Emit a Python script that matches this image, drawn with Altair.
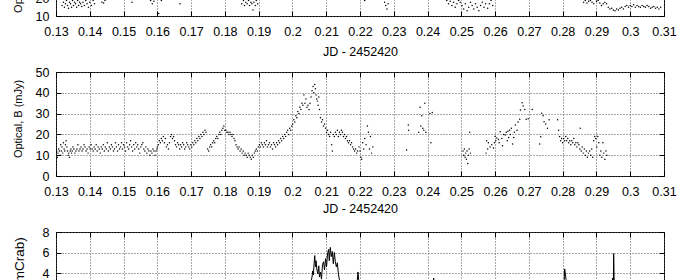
import altair as alt
import pandas as pd

# ---------------- data (JD - 2452420, flux) ----------------
x_ticks = [0.13, 0.14, 0.15, 0.16, 0.17, 0.18, 0.19, 0.2, 0.21, 0.22,
           0.23, 0.24, 0.25, 0.26, 0.27, 0.28, 0.29, 0.3, 0.31]

# top panel (only its lower strip is visible)
top_t = [0.1318, 0.1322, 0.1325, 0.1328, 0.1331, 0.1334, 0.1337, 0.1340, 0.1343, 0.1346,
         0.1349, 0.1352, 0.1355, 0.1358, 0.1361, 0.1364, 0.1367, 0.1370, 0.1373, 0.1376,
         0.1380, 0.1384, 0.1388, 0.1392, 0.1396, 0.1400, 0.1405, 0.1410, 0.1414,
         0.1436, 0.1441, 0.1445, 0.1525, 0.1580, 0.1585, 0.1590, 0.1604, 0.1612, 0.1667,
         0.1850, 0.1855, 0.1858, 0.1862, 0.1866, 0.1870, 0.1873, 0.1877, 0.1880, 0.1883,
         0.1886, 0.1890, 0.1893, 0.1897, 0.2214, 0.2273, 0.2276, 0.2280, 0.2283,
         0.2457, 0.2462, 0.2467, 0.2472, 0.2477, 0.2482, 0.2487, 0.2492,
         0.2497, 0.2502, 0.2507, 0.2512, 0.2517, 0.2522, 0.2527, 0.2532, 0.2537, 0.2542,
         0.2547, 0.2552, 0.2557, 0.2562, 0.2567, 0.2572, 0.2578, 0.2583, 0.2588, 0.2593,
         0.2862, 0.2867, 0.2872, 0.2877, 0.2882, 0.2887, 0.2892,
         0.2900, 0.2905, 0.2910, 0.2915, 0.2920, 0.2925, 0.2930, 0.2935, 0.2940, 0.2945,
         0.2950, 0.2955, 0.2960, 0.2965, 0.2970, 0.2975, 0.2980, 0.2985, 0.2990, 0.2995,
         0.3000, 0.3005, 0.3010, 0.3015, 0.3020, 0.3025, 0.3030, 0.3035, 0.3040, 0.3045,
         0.3050, 0.3055, 0.3060, 0.3065, 0.3070, 0.3075, 0.3080, 0.3085, 0.3090]
top_v = [16, 18, 15, 17, 19, 16, 14.5, 18, 17, 15,
         19, 16, 18, 17, 15, 19, 16, 18, 17, 15.5,
         18, 16, 19, 17, 15, 18, 16, 19, 17,
         18, 17.5, 19, 18, 19, 17, 18.5, 11.5, 19, 17,
         17, 19, 16, 18, 17, 19, 16, 18, 17, 13.5,
         18, 16, 19, 17, 19, 18, 16, 14, 17,
         19, 17, 18.5, 16, 18, 15, 17, 19,
         18, 16, 14, 17, 13, 15, 18, 16, 14, 17,
         15, 13, 16, 18, 15, 17, 14.5, 17, 19, 16,
         18, 19, 17.5, 18.5, 19, 18, 17,
         18.5, 19, 17.5, 16, 17, 18, 17, 15, 14, 14.5,
         13.5, 13, 14, 13.5, 14.5, 15, 14, 15.5, 16, 15,
         16, 15.5, 16.5, 15, 16, 15.5, 15, 16, 15.5, 15,
         16, 15.5, 14.5, 15, 15.5, 14.5, 15, 14, 15]

# middle panel: Optical B (mJy)
mid_t = [0.1302, 0.1304, 0.1306, 0.1308, 0.1310, 0.1312, 0.1314, 0.1316, 0.1318, 0.1320,
         0.1322, 0.1324, 0.1326, 0.1328, 0.1330, 0.1332, 0.1334, 0.1336, 0.1338, 0.1340,
         0.1342, 0.1344, 0.1346, 0.1348, 0.1350, 0.1353, 0.1356, 0.1359, 0.1362, 0.1365,
         0.1368, 0.1371, 0.1374, 0.1377, 0.1380, 0.1383, 0.1386, 0.1389, 0.1392, 0.1395,
         0.1398, 0.1401, 0.1404, 0.1407, 0.1410, 0.1413, 0.1416, 0.1419, 0.1422, 0.1425,
         0.1428, 0.1431, 0.1434, 0.1437, 0.1440, 0.1443, 0.1446, 0.1449, 0.1452, 0.1455,
         0.1458, 0.1461, 0.1464, 0.1467, 0.1470, 0.1473, 0.1476, 0.1479, 0.1482, 0.1485,
         0.1488, 0.1491, 0.1494, 0.1497,
         0.1500, 0.1503, 0.1506, 0.1509, 0.1512, 0.1515, 0.1518, 0.1521, 0.1524, 0.1527,
         0.1530, 0.1533, 0.1536, 0.1539, 0.1542, 0.1545, 0.1548, 0.1551, 0.1554, 0.1557,
         0.1560, 0.1563, 0.1566, 0.1569, 0.1572, 0.1575, 0.1578, 0.1581, 0.1584, 0.1587,
         0.1590, 0.1593, 0.1596, 0.1599,
         0.1600, 0.1603, 0.1606, 0.1609, 0.1612, 0.1615, 0.1618, 0.1621, 0.1624, 0.1627,
         0.1630, 0.1633, 0.1636, 0.1639, 0.1642, 0.1645, 0.1648, 0.1651,
         0.1654, 0.1657, 0.1660, 0.1663, 0.1666, 0.1669, 0.1672, 0.1675, 0.1678, 0.1681,
         0.1684, 0.1687, 0.1690, 0.1693, 0.1696, 0.1699,
         0.1702, 0.1705, 0.1708, 0.1711, 0.1714, 0.1717, 0.1720, 0.1723, 0.1726, 0.1729,
         0.1732, 0.1735, 0.1738, 0.1741, 0.1744,
         0.1749, 0.1752, 0.1755, 0.1758, 0.1761, 0.1764, 0.1767, 0.1770, 0.1773, 0.1776,
         0.1779, 0.1782, 0.1785, 0.1788, 0.1791, 0.1794, 0.1797, 0.1800,
         0.1803, 0.1806, 0.1809, 0.1812, 0.1815, 0.1818, 0.1821, 0.1824, 0.1827, 0.1830,
         0.1833, 0.1836, 0.1839, 0.1842, 0.1845, 0.1848, 0.1851, 0.1854, 0.1857, 0.1860,
         0.1863, 0.1866, 0.1869, 0.1872, 0.1875, 0.1878, 0.1881, 0.1884,
         0.1887, 0.1890, 0.1893, 0.1896, 0.1899, 0.1902, 0.1905, 0.1908, 0.1911, 0.1914,
         0.1917, 0.1920, 0.1923, 0.1926, 0.1929, 0.1932, 0.1935, 0.1938, 0.1941, 0.1944,
         0.1947, 0.1950, 0.1953, 0.1956, 0.1959,
         0.1962, 0.1965, 0.1968, 0.1971, 0.1974, 0.1977, 0.1980, 0.1983, 0.1986, 0.1989,
         0.1992, 0.1995, 0.1998,
         0.2001, 0.2004, 0.2007, 0.2010, 0.2013, 0.2016, 0.2019, 0.2022, 0.2025, 0.2028,
         0.2031, 0.2034,
         0.2037, 0.2040, 0.2043, 0.2046, 0.2049, 0.2052, 0.2055,
         0.2058, 0.2061, 0.2063, 0.2066, 0.2068, 0.2070, 0.2072,
         0.2074, 0.2076, 0.2078, 0.2080,
         0.2083, 0.2086, 0.2089, 0.2092, 0.2095,
         0.2098, 0.2101, 0.2104, 0.2107, 0.2110, 0.2113, 0.2116, 0.2118,
         0.2121, 0.2124, 0.2127, 0.2130, 0.2133, 0.2136, 0.2139, 0.2142, 0.2145, 0.2148,
         0.2151, 0.2154, 0.2157, 0.2160, 0.2163,
         0.2166, 0.2169, 0.2172, 0.2175, 0.2178, 0.2181, 0.2184, 0.2187, 0.2190, 0.2193,
         0.2197, 0.2200, 0.2203, 0.2205, 0.2208, 0.2211, 0.2214,
         0.2218, 0.2222, 0.2225, 0.2228, 0.2231, 0.2234, 0.2238,
         0.2338, 0.2343, 0.2344,
         0.2374, 0.2378, 0.2380, 0.2383, 0.2386, 0.2389, 0.2392, 0.2395, 0.2407, 0.2410, 0.2414,
         0.2505, 0.2507, 0.2509, 0.2511, 0.2513, 0.2515, 0.2517, 0.2519, 0.2521, 0.2523,
         0.2525, 0.2527,
         0.2573, 0.2575, 0.2578, 0.2580, 0.2585, 0.2590, 0.2595, 0.2598, 0.2600, 0.2602,
         0.2605, 0.2610, 0.2612, 0.2615, 0.2620, 0.2622, 0.2625, 0.2630, 0.2633, 0.2636,
         0.2638, 0.2640, 0.2643, 0.2645, 0.2648, 0.2652, 0.2655, 0.2657, 0.2660, 0.2665,
         0.2668, 0.2673, 0.2675, 0.2680, 0.2683, 0.2688, 0.2692, 0.2698, 0.2710,
         0.2732, 0.2735, 0.2738, 0.2742, 0.2745, 0.2750, 0.2755, 0.2760, 0.2785, 0.2788,
         0.2791, 0.2794, 0.2797, 0.2800, 0.2803, 0.2806, 0.2809, 0.2812, 0.2815, 0.2818,
         0.2821, 0.2824, 0.2827, 0.2830, 0.2833, 0.2836, 0.2839, 0.2842, 0.2845, 0.2848,
         0.2852,
         0.2851, 0.2855, 0.2858, 0.2861, 0.2864, 0.2867, 0.2870, 0.2873, 0.2876,
         0.2880, 0.2883, 0.2886, 0.2889, 0.2892, 0.2895, 0.2898, 0.2901, 0.2904, 0.2907,
         0.2910, 0.2913, 0.2916, 0.2919, 0.2922, 0.2925, 0.2928, 0.2931]
mid_v = [12, 9, 11, 13, 12, 10, 15, 12, 14, 11,
         16, 13, 12, 15, 17, 14, 12, 10, 11, 9,
         12, 13, 11, 12, 14, 13, 11, 12, 13, 15,
         12, 13, 14, 12, 13, 15, 14, 12, 13, 11,
         14, 13, 15, 13, 12, 14, 13, 15, 12, 14,
         13, 11, 14, 13, 15, 12, 14, 13, 16, 12,
         14, 13, 15, 14, 12, 13, 16, 14, 12, 15,
         13, 14, 16, 13,
         15, 14, 12, 16, 14, 13, 15, 17, 14, 12,
         15, 13, 16, 14, 15, 13, 11, 14, 15, 16,
         13, 12, 14, 11, 13, 12, 10, 12, 11, 13,
         12, 10, 12, 13,
         14, 15, 17, 16, 18, 17, 19, 16, 18, 14,
         15, 13, 16, 19, 20, 18, 19, 17,
         15, 14, 16, 15, 13, 15, 14, 16, 15, 13,
         14, 16, 15, 14, 13, 15,
         14, 16, 15, 17, 16, 18, 17, 19, 18, 20,
         19, 21, 20, 22, 21,
         13, 12, 14, 15, 14, 16, 17, 16, 18, 19,
         18, 20, 21, 20, 22, 23, 24, 22,
         22, 21, 21, 20, 21, 20, 19, 20, 18, 17,
         15, 14, 13, 14, 12, 13, 11, 12, 10, 11,
         10, 9, 11, 10, 9, 8, 10, 9,
         11, 12, 13, 12, 14, 15, 14, 16, 15, 14,
         16, 15, 17, 14, 15, 16, 14, 15, 13, 16,
         15, 14, 16, 15, 17,
         16, 18, 17, 19, 18, 20, 19, 21, 22, 20,
         23, 22, 24,
         25, 27, 26, 29, 28, 31, 30, 33, 32, 35,
         34, 39,
         35, 37, 33, 34, 32, 35, 38,
         41, 43, 40, 44, 42, 39, 37,
         36, 34, 38, 32,
         28, 26, 27, 24, 25,
         23, 21, 22, 20, 19, 21, 15, 12,
         20, 19, 21, 20, 22, 19, 21, 20, 22, 21,
         19, 20, 18, 19, 17,
         16, 17, 15, 16, 14, 13, 12, 13, 11, 12,
         14, 12, 9, 8, 16, 13, 18,
         15, 24, 21, 13, 19, 11, 14,
         12.5, 24.5, 22,
         21, 33, 24, 29, 23, 22, 35, 21, 30, 16, 30.5,
         12, 10, 13, 9, 11, 8, 12, 6, 10, 13,
         21, 11,
         11, 17, 13, 16, 14, 15, 13.5, 16, 19, 17,
         18.3, 17.5, 16, 21.3, 18, 14.5, 20, 19.7, 21, 17,
         21.5, 18.5, 22, 20, 23, 15.4, 18.5, 21, 24.5, 22,
         26, 27.3, 31.7, 35.2, 33.6, 32, 27.3, 27.5, 32,
         15.4, 18.9, 30.2, 29, 26.1, 25, 23, 27, 27, 22,
         19, 17, 18, 16, 18, 17, 19, 17, 18, 16,
         17, 15, 17, 16, 18, 15, 16, 14, 16, 15,
         23,
         13, 12, 14, 11, 13, 10, 12, 9, 11,
         12, 10, 13, 9, 17, 19, 18, 14, 19, 16,
         10, 12, 9, 16, 11, 8, 12, 10]

# bottom panel: X-ray (mCrab)
bot_t = [0.130, 0.134, 0.138, 0.142, 0.146, 0.150, 0.154, 0.158, 0.162, 0.166,
         0.170, 0.174, 0.178, 0.182, 0.186, 0.190, 0.194, 0.198, 0.202,
         0.2040, 0.2045, 0.2050, 0.2054, 0.2058, 0.2060, 0.2062, 0.2064, 0.2066, 0.2068,
         0.2070, 0.2072, 0.2075, 0.2078, 0.2080, 0.2083, 0.2086, 0.2089, 0.2092, 0.2095,
         0.2098, 0.2101, 0.2104, 0.2107, 0.2109, 0.2112, 0.2115, 0.2118, 0.2121, 0.2124,
         0.2127, 0.2130, 0.2133, 0.2136, 0.2140, 0.2145, 0.2150, 0.2160, 0.2170, 0.2180,
         0.2188, 0.2192, 0.2194, 0.2196, 0.2200, 0.2210,
         0.224, 0.228, 0.232, 0.236, 0.240, 0.2414, 0.2418, 0.2422, 0.244, 0.248,
         0.252, 0.256, 0.260, 0.264, 0.268, 0.272, 0.276,
         0.2800, 0.2804, 0.2806, 0.2808, 0.2810, 0.2813, 0.284, 0.288, 0.292,
         0.2945, 0.2948, 0.2950, 0.2951, 0.2953, 0.2958, 0.300, 0.304, 0.308]
bot_v = [1.2, 0.8, 1.5, 1.0, 1.3, 0.9, 1.4, 1.1, 0.7, 1.2,
         1.0, 1.5, 0.9, 1.3, 1.1, 1.6, 1.2, 1.8, 2.0,
         2.2, 2.8, 2.4, 3.1, 3.6, 4.2, 3.8, 4.9, 5.7, 4.6,
         5.2, 4.4, 3.9, 4.7, 3.6, 4.1, 3.4, 4.8, 5.1, 4.3,
         5.4, 4.6, 5.9, 6.3, 5.2, 6.5, 5.6, 6.1, 4.9, 6.0,
         5.1, 4.6, 5.0, 3.9, 3.2, 2.7, 2.3, 2.0, 2.4, 1.9,
         2.6, 3.3, 4.1, 3.4, 2.2, 1.8,
         1.4, 1.1, 1.6, 1.2, 1.5, 1.9, 3.5, 2.0, 1.3, 1.0,
         1.5, 1.2, 1.7, 1.3, 1.6, 1.2, 1.4,
         1.8, 2.9, 4.4, 3.9, 3.4, 2.1, 1.3, 1.5, 1.1,
         1.7, 3.5, 2.6, 5.9, 2.2, 1.6, 1.4, 1.2, 1.0]

# ---------------- chart ----------------
FONT = "Liberation Sans"
W = 608
XDOM = [0.13, 0.31]


def panel(df, kind, ydom, yvals, ytitle, H, ytitle_y, xtitle_y,
          ytitle_size=11, ytitle_x=-37.5):
    xs = alt.Scale(domain=XDOM, nice=False, zero=False)
    ys = alt.Scale(domain=ydom, nice=False, zero=False)
    ax_x = alt.Axis(values=x_ticks, format="~g", grid=True, ticks=False, domain=False,
                    labelFont=FONT, labelFontSize=12.5, labelColor="black", labelPadding=9,
                    labelFlush=False, labelOverlap=False,
                    title="JD - 2452420", titleFont=FONT, titleFontSize=12.5,
                    titleFontWeight="normal", titleColor="black",
                    titleY=xtitle_y, titleBaseline="middle",
                    gridColor="#555555", gridDash=[1, 2], gridWidth=1, gridOpacity=1)
    ax_y = alt.Axis(values=yvals, grid=True, ticks=False, domain=False,
                    labelFont=FONT, labelFontSize=12.5, labelColor="black", labelPadding=7,
                    labelFlush=False, labelOverlap=False,
                    title=ytitle, titleFont=FONT, titleFontSize=ytitle_size,
                    titleFontWeight="normal", titleColor="black",
                    titleX=ytitle_x, titleY=ytitle_y, titleBaseline="middle",
                    gridColor="#555555", gridDash=[1, 2], gridWidth=1, gridOpacity=1)
    base = alt.Chart(df)
    if kind == "points":
        m = base.mark_circle(size=2.2, color="black", opacity=1, clip=True)
    else:
        m = base.mark_line(color="black", strokeWidth=1, clip=True)
    main = m.encode(x=alt.X("t:Q", scale=xs, axis=ax_x),
                    y=alt.Y("v:Q", scale=ys, axis=ax_y))
    tk = dict(labels=False, domain=False, grid=False, ticks=True, tickSize=5,
              tickColor="black", tickWidth=1, title=None)
    t1 = base.mark_point(opacity=0).encode(
        x=alt.X("t:Q", scale=xs, axis=alt.Axis(orient="top", offset=-H, values=x_ticks, **tk)),
        y=alt.Y("v:Q", scale=ys, axis=alt.Axis(orient="right", offset=-W, values=yvals, **tk)))
    t2 = base.mark_point(opacity=0).encode(
        x=alt.X("t:Q", scale=xs, axis=alt.Axis(orient="bottom", offset=-H, values=x_ticks, **tk)),
        y=alt.Y("v:Q", scale=ys, axis=alt.Axis(orient="left", offset=-W, values=yvals, **tk)))
    return alt.layer(main, t1, t2).resolve_axis(x="independent", y="independent").properties(
        width=W, height=H)


top_df = pd.DataFrame({"t": top_t, "v": top_v})
mid_df = pd.DataFrame({"t": mid_t, "v": mid_v})
bot_df = pd.DataFrame({"t": bot_t, "v": bot_v})

top = panel(top_df, "points", [10, 70], [10, 20, 30, 40, 50, 60, 70],
            "Optical, R (mJy)", 104, 61, 35)
mid = panel(mid_df, "points", [0, 50], [0, 10, 20, 30, 40, 50],
            "Optical, B (mJy)", 104, 46.5, 32.5)
bot = panel(bot_df, "line", [0, 8], [0, 2, 4, 6, 8],
            "X-ray (mCrab)", 82, 47.5, 33, ytitle_size=13.5, ytitle_x=-36.5)

chart = alt.vconcat(top, mid, bot, spacing=56, bounds="flush").properties(
    padding={"top": -95, "left": 11, "right": 5, "bottom": -74},
    background="white",
).configure_view(stroke="black", strokeWidth=1)

chart.save("out.html", embed_options={"renderer": "svg", "actions": False})
